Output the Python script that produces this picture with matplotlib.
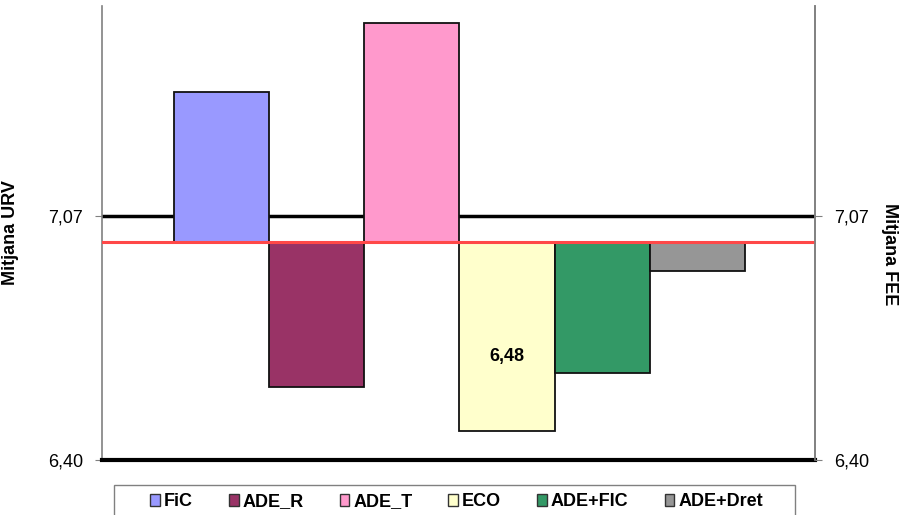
import matplotlib
matplotlib.use("Agg")
import matplotlib.pyplot as plt
from matplotlib.patches import Patch, Rectangle

plt.rcParams['font.family'] = ['Liberation Sans', 'DejaVu Sans']

# data
series = ['FiC', 'ADE_R', 'ADE_T', 'ECO', 'ADE+FIC', 'ADE+Dret']
values = [7.41, 6.60, 7.60, 6.48, 6.64, 6.92]
colors = ['#9999FF', '#993366', '#FF99CC', '#FFFFCC', '#339966', '#969696']
baseline = 7.00      # red line (bars start here)
ref_urv = 7.07       # black reference line
ymin = 6.40
ytick_vals = [6.40, 7.07]
ytick_labels = ['6,40', '7,07']
eco_label = '6,48'

W, H = 906, 515
fig = plt.figure(figsize=(W / 100, H / 100), dpi=100)
ax = fig.add_axes([102 / W, (H - 460) / H, 713 / W, 454 / H])

xs = list(range(len(series)))
heights = [v - baseline for v in values]
ax.bar(xs, heights, bottom=baseline, width=1.0, color=colors,
       edgecolor='#111111', linewidth=1.3, zorder=3)

ax.axhline(ref_urv, color='black', lw=2.5, zorder=2)
ax.axhline(baseline, color='#FF4848', lw=2.2, zorder=4)

ax.set_xlim(-1.257, 6.236)
ax.set_ylim(ymin, 7.647)
ax.set_xticks([])
ax.set_yticks(ytick_vals)
ax.set_yticklabels(ytick_labels, fontsize=13)
ax.tick_params(axis='y', length=5, color='#808080', pad=8.5)

for s in ['left', 'right']:
    ax.spines[s].set_color('#808080')
    ax.spines[s].set_linewidth(1.2)
ax.spines['top'].set_visible(False)
ax.spines['bottom'].set_color('black')
ax.spines['bottom'].set_linewidth(3)
ax.spines['bottom'].set_zorder(5)

ax2 = ax.twinx()
ax2.set_ylim(ax.get_ylim())
ax2.set_yticks(ytick_vals)
ax2.set_yticklabels(ytick_labels, fontsize=13)
ax2.tick_params(axis='y', length=5, color='#808080', pad=8.5)
for s in ['top', 'bottom', 'left']:
    ax2.spines[s].set_visible(False)
ax2.spines['right'].set_color('#808080')
ax2.spines['right'].set_linewidth(1.2)

ax.set_ylabel('Mitjana URV', fontsize=13, fontweight='bold')
ax.yaxis.set_label_coords(-0.116, 0.5)
ax2.set_ylabel('Mitjana FEE', fontsize=13, fontweight='bold', rotation=270,
               va='center')
ax2.yaxis.set_label_coords(1.104, 0.454)

ax.text(3, 6.683, eco_label, ha='center', va='center', fontsize=13,
        fontweight='bold', zorder=6)

# legend frame (bottom edge runs off the picture)
fig.patches.append(Rectangle((114 / W, -10 / H), (795 - 114) / W, (515 - 485 + 10) / H,
                             transform=fig.transFigure, facecolor='white',
                             edgecolor='#808080', linewidth=1.0, zorder=0))

handles = [Patch(facecolor=c, edgecolor='#333333', linewidth=1.0) for c in colors]
leg = fig.legend(handles, series, loc='center left', ncol=6,
                 bbox_to_anchor=(150 / W, 1 - 502 / H),
                 prop={'weight': 'bold', 'size': 13},
                 handlelength=0.55, handleheight=0.6, handletextpad=0.2,
                 columnspacing=2.0, frameon=False,
                 borderpad=0, borderaxespad=0)

fig.savefig('out.png', dpi=100)
